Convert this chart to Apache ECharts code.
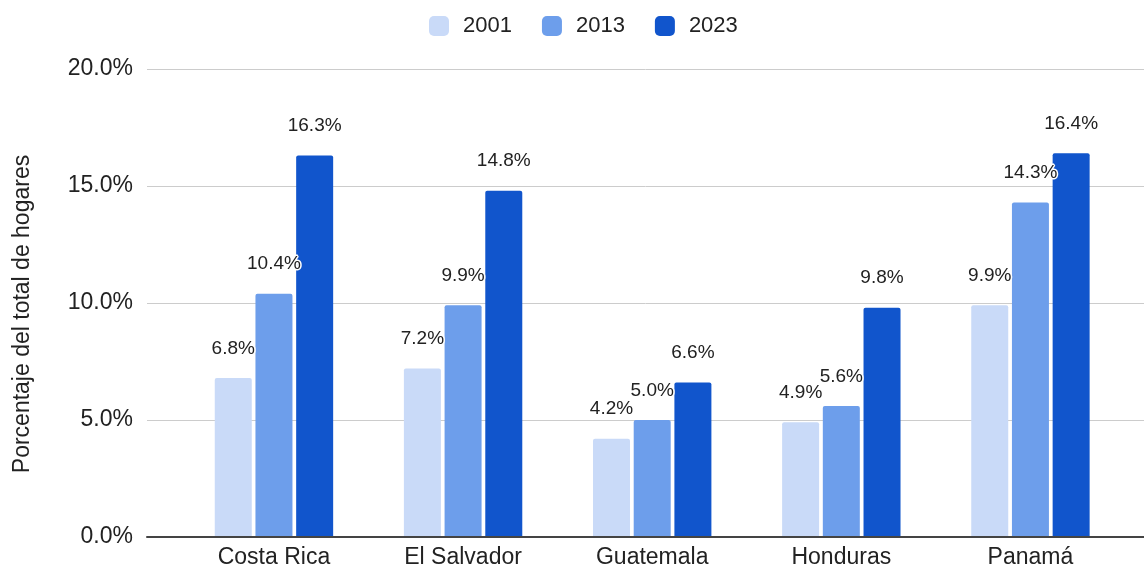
<!DOCTYPE html>
<html>
<head>
<meta charset="utf-8">
<script src="https://cdn.jsdelivr.net/npm/echarts@6/dist/echarts.min.js"></script>
<style>
html,body{margin:0;padding:0;background:#fff;}
#chart{width:1144px;height:570px;}
</style>
</head>
<body>
<div id="chart"></div>
<script>
const categories = ['Costa Rica', 'El Salvador', 'Guatemala', 'Honduras', 'Panamá'];
const seriesNames = ['2001', '2013', '2023'];
const values2001 = [6.8, 7.2, 4.2, 4.9, 9.9];
const values2013 = [10.4, 9.9, 5.0, 5.6, 14.3];
const values2023 = [16.3, 14.8, 6.6, 9.8, 16.4];
const colors = ['#c9daf8', '#6d9eeb', '#1155cc'];
const yTicks = [0, 5, 10, 15, 20];
const yAxisTitle = 'Porcentaje del total de hogares';

const FONT = "'Liberation Sans', Arial, sans-serif";
const chart = echarts.init(document.getElementById('chart'));
const seriesData = [values2001, values2013, values2023];

chart.setOption({
  animation: false,
  textStyle: { fontFamily: FONT },
  color: colors,
  legend: {
    left: 424, top: 10,
    itemWidth: 20, itemHeight: 20, itemGap: 30,
    icon: 'roundRect',
    textStyle: { fontSize: 22, color: '#222', fontFamily: FONT, padding: [0, 0, 0, 9] },
    data: seriesNames
  },
  grid: [
    { left: 147, right: 0, top: 69, bottom: 33, outerBoundsMode: 'none', containLabel: false },
    { left: 179.4, right: 19, top: 69, bottom: 33, outerBoundsMode: 'none', containLabel: false }
  ],
  xAxis: [
    { type: 'value', gridIndex: 0, min: 0, max: 1, z: 5,
      axisLine: { show: true, lineStyle: { color: '#444', width: 2 } },
      axisTick: { show: false }, axisLabel: { show: false }, splitLine: { show: false } },
    { type: 'category', gridIndex: 1, data: categories,
      axisLine: { show: false }, axisTick: { show: false },
      axisLabel: { fontSize: 23, color: '#222', margin: 9, fontFamily: FONT } }
  ],
  yAxis: [
    { type: 'value', gridIndex: 0, min: yTicks[0], max: yTicks[yTicks.length - 1], interval: 5,
      axisLine: { show: false }, axisTick: { show: false },
      splitLine: { lineStyle: { color: '#cccccc', width: 1 } },
      axisLabel: { fontSize: 23, color: '#222', margin: 14, fontFamily: FONT,
        formatter: v => v.toFixed(1) + '%' },
      name: yAxisTitle, nameLocation: 'middle', nameGap: 113,
      nameTextStyle: { fontSize: 23, color: '#222', fontFamily: FONT, padding: [0, 22, 0, 0] } },
    { type: 'value', gridIndex: 1, min: yTicks[0], max: yTicks[yTicks.length - 1], show: false }
  ],
  series: seriesNames.map((name, i) => ({
    name: name,
    type: 'bar',
    xAxisIndex: 1, yAxisIndex: 1,
    data: seriesData[i],
    barWidth: 37,
    barGap: '10%',
    itemStyle: { color: colors[i], borderRadius: [2, 2, 0, 0] },
    label: {
      show: true, position: 'top', distance: 20,
      fontSize: 19, color: '#222', fontFamily: FONT,
      textBorderColor: '#fff', textBorderWidth: 3,
      formatter: p => p.value.toFixed(1) + '%'
    }
  }))
});
</script>
</body>
</html>
